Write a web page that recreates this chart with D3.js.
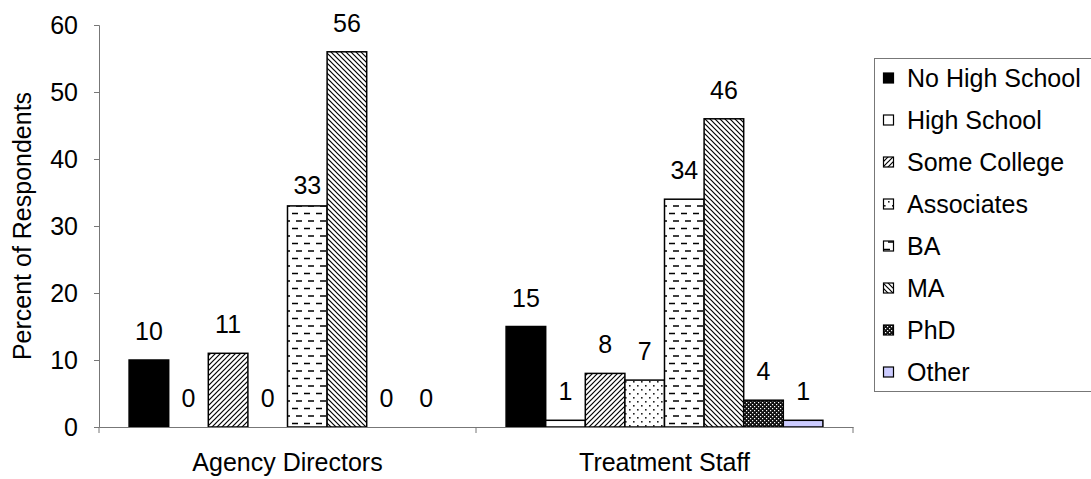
<!DOCTYPE html>
<html>
<head>
<meta charset="utf-8">
<script src="https://cdn.jsdelivr.net/npm/d3@7/dist/d3.min.js"></script>
<style>
  html, body { margin: 0; padding: 0; background: #fff; }
  svg { display: block; font-family: "Liberation Sans", Arial, sans-serif; }
</style>
</head>
<body>
<svg id="chart" width="1091" height="479"></svg>
<script>
// Education level of respondents, by respondent group (percent)
const groups = ["Agency Directors", "Treatment Staff"];
const levels = ["No High School", "High School", "Some College", "Associates", "BA", "MA", "PhD", "Other"];
const agencyDirectors = [10, 0, 11, 0, 33, 56, 0, 0];
const treatmentStaff  = [15, 1, 8, 7, 34, 46, 4, 1];
const yTicks = [0, 10, 20, 30, 40, 50, 60];
const yTitle = "Percent of Respondents";

const seriesByGroup = { "Agency Directors": agencyDirectors, "Treatment Staff": treatmentStaff };

const svg = d3.select("#chart");
const FONT = 25;
const margin = { left: 99, right: 238, top: 25, bottom: 52 };
const W = 1091, H = 479;

// ---- fill patterns ----
const defs = svg.append("defs");
function pattern(id, w, h, draw, bg = "#fff") {
  const p = defs.append("pattern").attr("id", id).attr("patternUnits", "userSpaceOnUse")
    .attr("width", w).attr("height", h);
  p.append("rect").attr("width", w).attr("height", h).attr("fill", bg);
  draw(p);
}
// Some College: forward diagonals
pattern("p-some", 5, 5, p => {
  p.append("path").attr("d", "M-1,6 L6,-1 M-1,1 L1,-1 M4,6 L6,4").attr("stroke", "#000").attr("stroke-width", 1.2);
});
// Associates: scattered dots
pattern("p-assoc", 8, 8, p => {
  p.append("rect").attr("x", 1).attr("y", 1).attr("width", 1.6).attr("height", 1.6).attr("fill", "#222");
  p.append("rect").attr("x", 5).attr("y", 5).attr("width", 1.6).attr("height", 1.6).attr("fill", "#222");
});
// BA: staggered horizontal dashes
pattern("p-ba", 12, 15, p => {
  p.append("path").attr("d", "M1,3.5 H7 M5,11 H11").attr("stroke", "#000").attr("stroke-width", 1.5);
});
// MA: backward diagonals
pattern("p-ma", 5, 5, p => {
  p.append("path").attr("d", "M-1,-1 L6,6 M4,-1 L6,1 M-1,4 L1,6").attr("stroke", "#000").attr("stroke-width", 1.2);
});
// PhD: dark crosshatch
pattern("p-phd", 4, 4, p => {
  p.append("rect").attr("x", 0).attr("y", 0).attr("width", 1.2).attr("height", 1.2).attr("fill", "#fff");
  p.append("rect").attr("x", 2).attr("y", 2).attr("width", 1.2).attr("height", 1.2).attr("fill", "#fff");
}, "#111");

const fills = {
  "No High School": "#000",
  "High School": "#fff",
  "Some College": "url(#p-some)",
  "Associates": "url(#p-assoc)",
  "BA": "url(#p-ba)",
  "MA": "url(#p-ma)",
  "PhD": "url(#p-phd)",
  "Other": "#ccccff"
};

// ---- scales ----
const x0 = d3.scaleBand().domain(groups).range([margin.left, W - margin.right]).padding(0);
const x1 = d3.scaleBand().domain(levels).range([0, x0.bandwidth()]).paddingInner(0).paddingOuter(0.76);
const y = d3.scaleLinear().domain([0, 60]).range([H - margin.bottom, margin.top]);

// ---- bars ----
const g = svg.append("g");
groups.forEach(grp => {
  const vals = seriesByGroup[grp];
  const gg = g.append("g").attr("transform", `translate(${x0(grp)},0)`);
  gg.selectAll("rect").data(levels.map((lv, i) => ({ lv, v: vals[i] })).filter(d => d.v > 0))
    .join("rect")
    .attr("x", d => x1(d.lv))
    .attr("y", d => y(d.v))
    .attr("width", x1.bandwidth())
    .attr("height", d => y(0) - y(d.v))
    .attr("fill", d => fills[d.lv])
    .attr("stroke", "#000")
    .attr("stroke-width", 1.5);

  // value labels; the BA label in the first group sits lower beside the taller MA bar
  gg.selectAll("text").data(levels.map((lv, i) => ({ lv, v: vals[i] })))
    .join("text")
    .attr("x", d => x1(d.lv) + x1.bandwidth() / 2)
    .attr("y", d => y(d.v) - ((grp === "Agency Directors" && d.lv === "BA") ? 12 : 20))
    .attr("text-anchor", "middle")
    .attr("font-size", FONT)
    .attr("fill", "#000")
    .text(d => d.v);
});

// ---- axes ----
const yAxis = d3.axisLeft(y).tickValues(yTicks).tickSize(5).tickPadding(16);
const ya = svg.append("g").attr("transform", `translate(${margin.left},0)`).call(yAxis);
ya.select(".domain").attr("stroke", "#777");
ya.selectAll(".tick line").attr("stroke", "#777");
ya.selectAll("text").attr("font-size", FONT).attr("font-family", "Liberation Sans, Arial, sans-serif").attr("fill", "#000");

const xAxis = d3.axisBottom(x0).tickSize(0).tickPadding(26);
const xa = svg.append("g").attr("transform", `translate(0,${y(0)})`).call(xAxis);
xa.select(".domain").attr("stroke", "#777");
xa.selectAll("text").attr("font-size", FONT).attr("font-family", "Liberation Sans, Arial, sans-serif").attr("fill", "#000");
// category separators on the x axis
const seps = [margin.left, ...groups.map(gp => x0(gp) + x0.bandwidth())];
xa.selectAll(".sep").data(seps).join("line").attr("class", "sep")
  .attr("x1", d => d).attr("x2", d => d).attr("y1", 0).attr("y2", 6).attr("stroke", "#777");

// y-axis title
svg.append("text")
  .attr("transform", `translate(31,${(y(0) + y(60)) / 2}) rotate(-90)`)
  .attr("text-anchor", "middle")
  .attr("font-size", FONT)
  .text(yTitle);

// ---- legend ----
const lg = svg.append("g");
lg.append("rect").attr("x", 874.5).attr("y", 58.5).attr("width", 240).attr("height", 333)
  .attr("fill", "#fff").attr("stroke", "#777");
const rowY = d3.scalePoint().domain(levels).range([78, 372]);
const items = lg.selectAll("g.item").data(levels).join("g").attr("class", "item")
  .attr("transform", d => `translate(883,${rowY(d)})`);
items.append("rect").attr("x", 0.5).attr("y", -5).attr("width", 10).attr("height", 10)
  .attr("fill", d => fills[d]).attr("stroke", "#000").attr("stroke-width", 1.2);
items.append("text").attr("x", 24).attr("y", 0).attr("dy", "0.35em")
  .attr("font-size", FONT).text(d => d);
</script>
</body>
</html>
